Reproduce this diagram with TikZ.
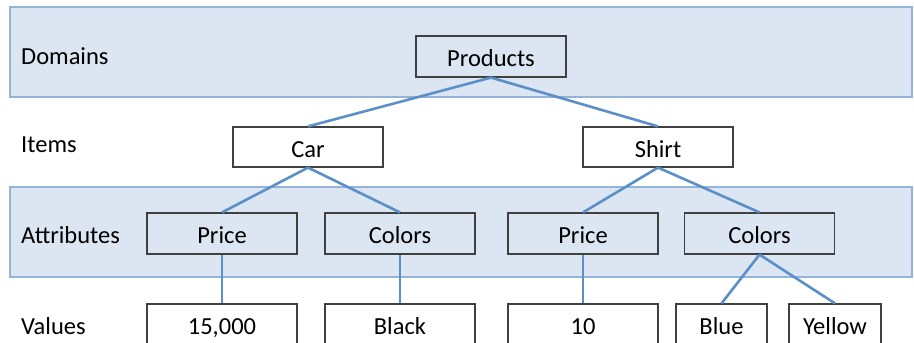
\documentclass[tikz,border=0pt]{standalone}
\usepackage{fontspec}
\setmainfont{Carlito}

\definecolor{bandfill}{RGB}{220,230,242}
\definecolor{bandline}{RGB}{149,179,215}
\definecolor{edgeblue}{RGB}{91,143,199}
\definecolor{boxline}{RGB}{64,64,64}

\begin{document}
\begin{tikzpicture}[x=1pt,y=-1pt]
\tikzset{
  band/.style={fill=bandfill,draw=bandline,line width=1.5pt},
  level/.style={anchor=base west,inner sep=0pt,font=\fontsize{24.5}{26}\selectfont},
  box/.style={draw=boxline,line width=1.2pt,minimum width=150pt,minimum height=41pt,
    inner sep=0pt,text height=20pt,text depth=0pt,font=\fontsize{24.5}{26}\selectfont},
  smallbox/.style={box,minimum width=91pt},
  link/.style={draw=edgeblue,line width=2.6pt}
}
\clip (0,0) rectangle (914,343);

% Shaded bands for domains and attributes
\draw[band] (10,7) rectangle (912,97);
\draw[band] (10,187) rectangle (912,277);

% Row labels
\node[level] (ldom) at (21,64) {Domains};
\node[level] (litem) at (21,152) {Items};
\node[level] (lattr) at (21,243) {Attributes};
\node[level] (lval) at (21,334) {Values};

% Tree nodes
\node[box] (products) at (491,56.5) {Products};
\node[box,minimum height=40pt] (car) at (308,147) {Car};
\node[box,minimum height=40pt] (shirt) at (658,147) {Shirt};
\node[box] (price1) at (222,233.5) {Price};
\node[box] (colors1) at (400,233.5) {Colors};
\node[box] (price2) at (583,233.5) {Price};
\node[box] (colors2) at (759.5,233.5) {Colors};
\node[box] (val1) at (222,324.5) {15,000};
\node[box] (val2) at (400,324.5) {Black};
\node[box] (val3) at (583,324.5) {10};
\node[smallbox] (blue) at (721.5,324.5) {Blue};
\node[smallbox,minimum width=92pt] (yellow) at (835,324.5) {Yellow};

% Connectors
\draw[link] (products.south) -- (car.north);
\draw[link] (products.south) -- (shirt.north);
\draw[link] (car.south) -- (price1.north);
\draw[link] (car.south) -- (colors1.north);
\draw[link] (shirt.south) -- (price2.north);
\draw[link] (shirt.south) -- (colors2.north);
\draw[link] (price1.south) -- (val1.north);
\draw[link] (colors1.south) -- (val2.north);
\draw[link] (price2.south) -- (val3.north);
\draw[link] (colors2.south) -- (blue.north);
\draw[link] (colors2.south) -- (yellow.north);
\end{tikzpicture}
\end{document}
